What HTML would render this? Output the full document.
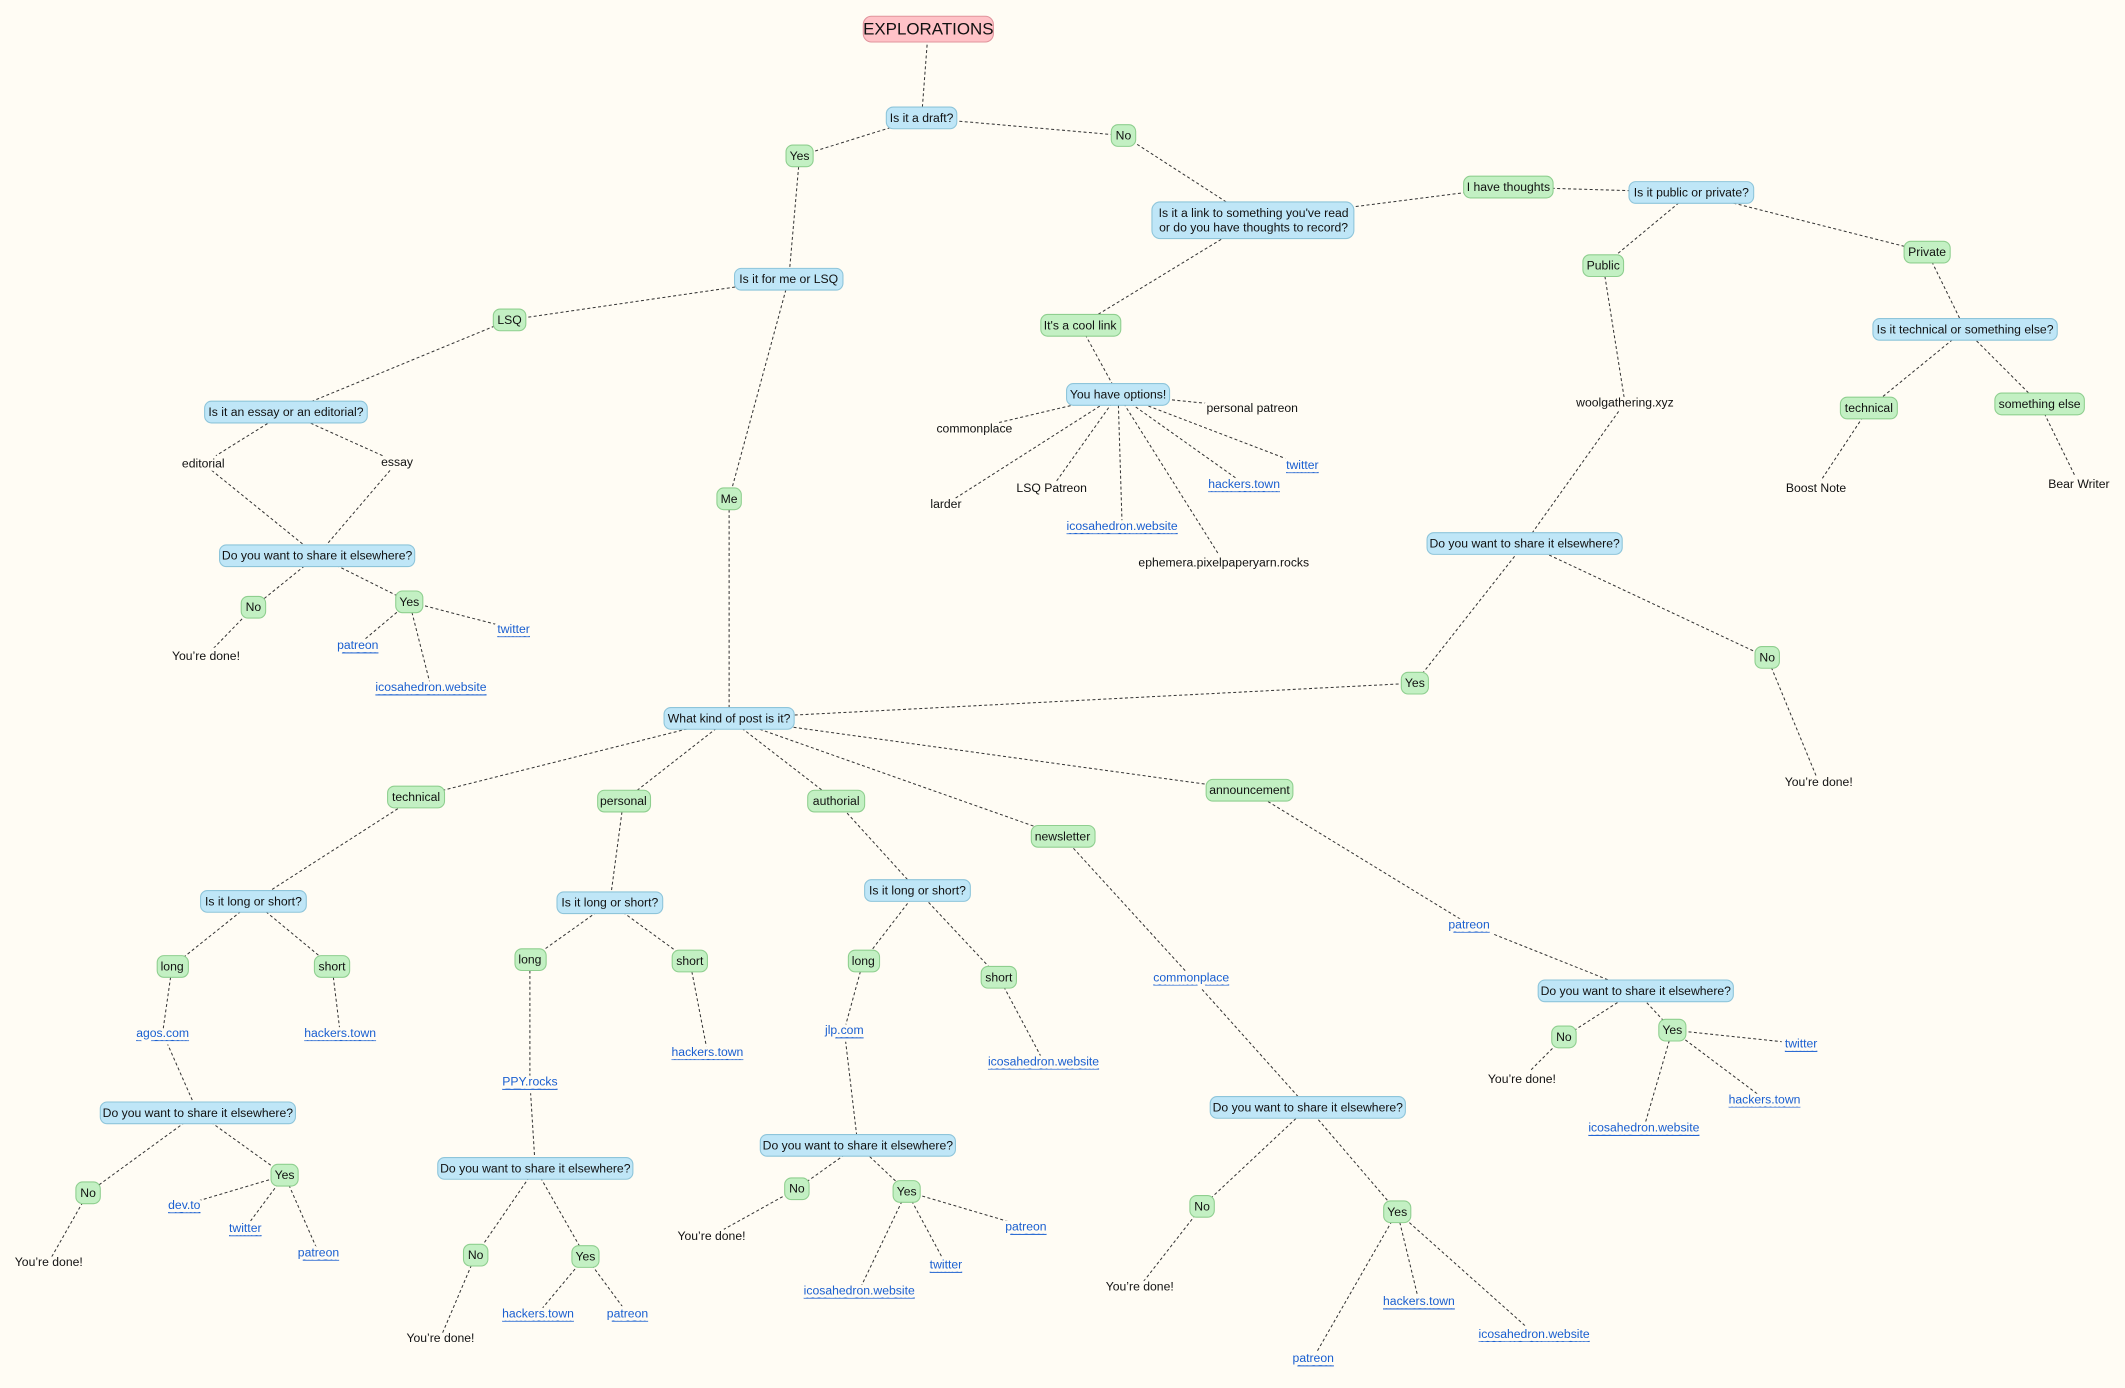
<!DOCTYPE html>
<html><head><meta charset="utf-8">
<style>
html,body{margin:0;padding:0;background:#fffcf4;}
svg{display:block}
text{font-family:"Liberation Sans",Arial,sans-serif;font-size:9px;fill:#111;text-anchor:middle;dominant-baseline:central}
.t,.l{paint-order:stroke;stroke:#fffcf4;stroke-width:5px;stroke-linejoin:round}
.l{fill:#1a5fd0;text-decoration:underline}
.b{fill:#bfe6f7;stroke:#8ec5da;stroke-width:0.8}
.g{fill:#c3f0c3;stroke:#8fcf8f;stroke-width:0.8}
.p{fill:#ffc2c7;stroke:#e0949c;stroke-width:0.8}
line{stroke:#333;stroke-width:0.75;stroke-dasharray:2.2 1.8}
</style></head><body>
<svg width="2125" height="1388" viewBox="0 0 1568 1024" preserveAspectRatio="none">
<rect width="1568" height="1024" fill="#fffcf4"/>
<g>
<line x1="685" y1="21" x2="680" y2="87"/>
<line x1="680" y1="87" x2="590" y2="115"/>
<line x1="680" y1="87" x2="829" y2="100"/>
<line x1="829" y1="100" x2="925" y2="162"/>
<line x1="925" y1="162" x2="1113" y2="138"/>
<line x1="1113" y1="138" x2="1248" y2="142"/>
<line x1="1248" y1="142" x2="1183" y2="196"/>
<line x1="1248" y1="142" x2="1422" y2="186"/>
<line x1="1422" y1="186" x2="1450" y2="243"/>
<line x1="1450" y1="243" x2="1379" y2="301"/>
<line x1="1450" y1="243" x2="1505" y2="298"/>
<line x1="1379" y1="301" x2="1340" y2="360"/>
<line x1="1505" y1="298" x2="1534" y2="357"/>
<line x1="1183" y1="196" x2="1199" y2="297"/>
<line x1="1199" y1="297" x2="1125" y2="401"/>
<line x1="1125" y1="401" x2="1044" y2="504"/>
<line x1="1125" y1="401" x2="1304" y2="485"/>
<line x1="1304" y1="485" x2="1342" y2="577"/>
<line x1="1044" y1="504" x2="538" y2="530"/>
<line x1="925" y1="162" x2="797" y2="240"/>
<line x1="797" y1="240" x2="825" y2="291"/>
<line x1="825" y1="291" x2="924" y2="301"/>
<line x1="825" y1="291" x2="719" y2="316"/>
<line x1="825" y1="291" x2="698" y2="372"/>
<line x1="825" y1="291" x2="776" y2="360"/>
<line x1="825" y1="291" x2="828" y2="388"/>
<line x1="825" y1="291" x2="903" y2="415"/>
<line x1="825" y1="291" x2="918" y2="357"/>
<line x1="825" y1="291" x2="961" y2="343"/>
<line x1="590" y1="115" x2="582" y2="206"/>
<line x1="582" y1="206" x2="376" y2="236"/>
<line x1="582" y1="206" x2="538" y2="368"/>
<line x1="376" y1="236" x2="211" y2="304"/>
<line x1="211" y1="304" x2="150" y2="342"/>
<line x1="211" y1="304" x2="293" y2="341"/>
<line x1="150" y1="342" x2="234" y2="410"/>
<line x1="293" y1="341" x2="234" y2="410"/>
<line x1="234" y1="410" x2="187" y2="448"/>
<line x1="234" y1="410" x2="302" y2="444"/>
<line x1="187" y1="448" x2="152" y2="484"/>
<line x1="302" y1="444" x2="264" y2="476"/>
<line x1="302" y1="444" x2="379" y2="464"/>
<line x1="302" y1="444" x2="318" y2="507"/>
<line x1="538" y1="368" x2="538" y2="530"/>
<line x1="538" y1="530" x2="307" y2="588"/>
<line x1="538" y1="530" x2="460" y2="591"/>
<line x1="538" y1="530" x2="617" y2="591"/>
<line x1="538" y1="530" x2="784" y2="617"/>
<line x1="538" y1="530" x2="922" y2="583"/>
<line x1="307" y1="588" x2="187" y2="665"/>
<line x1="187" y1="665" x2="127" y2="713"/>
<line x1="187" y1="665" x2="245" y2="713"/>
<line x1="127" y1="713" x2="120" y2="762"/>
<line x1="245" y1="713" x2="251" y2="762"/>
<line x1="120" y1="762" x2="146" y2="821"/>
<line x1="146" y1="821" x2="65" y2="880"/>
<line x1="146" y1="821" x2="210" y2="867"/>
<line x1="65" y1="880" x2="36" y2="931"/>
<line x1="210" y1="867" x2="136" y2="889"/>
<line x1="210" y1="867" x2="181" y2="906"/>
<line x1="210" y1="867" x2="235" y2="924"/>
<line x1="460" y1="591" x2="450" y2="666"/>
<line x1="450" y1="666" x2="391" y2="708"/>
<line x1="450" y1="666" x2="509" y2="709"/>
<line x1="391" y1="708" x2="391" y2="798"/>
<line x1="509" y1="709" x2="522" y2="776"/>
<line x1="391" y1="798" x2="395" y2="862"/>
<line x1="395" y1="862" x2="351" y2="926"/>
<line x1="395" y1="862" x2="432" y2="927"/>
<line x1="351" y1="926" x2="325" y2="987"/>
<line x1="432" y1="927" x2="397" y2="969"/>
<line x1="432" y1="927" x2="463" y2="969"/>
<line x1="617" y1="591" x2="677" y2="657"/>
<line x1="677" y1="657" x2="637" y2="709"/>
<line x1="677" y1="657" x2="737" y2="721"/>
<line x1="637" y1="709" x2="623" y2="760"/>
<line x1="737" y1="721" x2="770" y2="783"/>
<line x1="623" y1="760" x2="633" y2="845"/>
<line x1="633" y1="845" x2="588" y2="877"/>
<line x1="633" y1="845" x2="669" y2="879"/>
<line x1="588" y1="877" x2="525" y2="912"/>
<line x1="669" y1="879" x2="634" y2="952"/>
<line x1="669" y1="879" x2="698" y2="933"/>
<line x1="669" y1="879" x2="757" y2="905"/>
<line x1="784" y1="617" x2="879" y2="721"/>
<line x1="879" y1="721" x2="965" y2="817"/>
<line x1="965" y1="817" x2="887" y2="890"/>
<line x1="965" y1="817" x2="1031" y2="894"/>
<line x1="887" y1="890" x2="841" y2="949"/>
<line x1="1031" y1="894" x2="969" y2="1002"/>
<line x1="1031" y1="894" x2="1047" y2="960"/>
<line x1="1031" y1="894" x2="1132" y2="984"/>
<line x1="922" y1="583" x2="1084" y2="682"/>
<line x1="1084" y1="682" x2="1207" y2="731"/>
<line x1="1207" y1="731" x2="1154" y2="765"/>
<line x1="1207" y1="731" x2="1234" y2="760"/>
<line x1="1154" y1="765" x2="1123" y2="796"/>
<line x1="1234" y1="760" x2="1329" y2="770"/>
<line x1="1234" y1="760" x2="1302" y2="811"/>
<line x1="1234" y1="760" x2="1213" y2="832"/>
</g>

<rect class="p" x="637" y="12" width="96" height="19" rx="6"/><text x="685" y="21.5" style="font-size:12.5px">EXPLORATIONS</text>
<rect class="b" x="654" y="79" width="52" height="16" rx="5"/><text x="680" y="87">Is it a draft?</text>
<rect class="g" x="580" y="107" width="20" height="16" rx="5"/><text x="590" y="115">Yes</text>
<rect class="g" x="820" y="92" width="18" height="16" rx="5"/><text x="829" y="100">No</text>
<rect class="b" x="850" y="149" width="149" height="27" rx="6"/><text x="925" y="157">Is it a link to something you've read</text><text x="925" y="168">or do you have thoughts to record?</text>
<rect class="g" x="1080" y="130" width="66" height="16" rx="5"/><text x="1113" y="138">I have thoughts</text>
<rect class="b" x="1202" y="134" width="92" height="16" rx="5"/><text x="1248" y="142">Is it public or private?</text>
<rect class="g" x="1168" y="188" width="30" height="16" rx="5"/><text x="1183" y="196">Public</text>
<rect class="g" x="1405" y="178" width="34" height="16" rx="5"/><text x="1422" y="186">Private</text>
<rect class="b" x="1382" y="235" width="136" height="16" rx="5"/><text x="1450" y="243">Is it technical or something else?</text>
<rect class="g" x="1358" y="293" width="42" height="16" rx="5"/><text x="1379" y="301">technical</text>
<rect class="g" x="1472" y="290" width="66" height="16" rx="5"/><text x="1505" y="298">something else</text>
<rect class="b" x="1053" y="393" width="144" height="16" rx="5"/><text x="1125" y="401">Do you want to share it elsewhere?</text>
<rect class="g" x="1034" y="496" width="20" height="16" rx="5"/><text x="1044" y="504">Yes</text>
<rect class="g" x="1295" y="477" width="18" height="16" rx="5"/><text x="1304" y="485">No</text>
<rect class="g" x="768" y="232" width="59" height="16" rx="5"/><text x="797" y="240">It's a cool link</text>
<rect class="b" x="787" y="283" width="76" height="16" rx="5"/><text x="825" y="291">You have options!</text>
<rect class="b" x="542" y="198" width="80" height="16" rx="5"/><text x="582" y="206">Is it for me or LSQ</text>
<rect class="g" x="364" y="228" width="24" height="16" rx="5"/><text x="376" y="236">LSQ</text>
<rect class="g" x="529" y="360" width="18" height="16" rx="5"/><text x="538" y="368">Me</text>
<rect class="b" x="151" y="296" width="120" height="16" rx="5"/><text x="211" y="304">Is it an essay or an editorial?</text>
<rect class="b" x="162" y="402" width="144" height="16" rx="5"/><text x="234" y="410">Do you want to share it elsewhere?</text>
<rect class="g" x="178" y="440" width="18" height="16" rx="5"/><text x="187" y="448">No</text>
<rect class="g" x="292" y="436" width="20" height="16" rx="5"/><text x="302" y="444">Yes</text>
<rect class="b" x="490" y="522" width="96" height="16" rx="5"/><text x="538" y="530">What kind of post is it?</text>
<rect class="g" x="286" y="580" width="42" height="16" rx="5"/><text x="307" y="588">technical</text>
<rect class="g" x="441" y="583" width="39" height="16" rx="5"/><text x="460" y="591">personal</text>
<rect class="g" x="596" y="583" width="42" height="16" rx="5"/><text x="617" y="591">authorial</text>
<rect class="g" x="761" y="609" width="47" height="16" rx="5"/><text x="784" y="617">newsletter</text>
<rect class="g" x="890" y="575" width="64" height="16" rx="5"/><text x="922" y="583">announcement</text>

<rect class="b" x="148" y="657" width="78" height="16" rx="5"/><text x="187" y="665">Is it long or short?</text>
<rect class="g" x="116" y="705" width="23" height="16" rx="5"/><text x="127" y="713">long</text>
<rect class="g" x="232" y="705" width="26" height="16" rx="5"/><text x="245" y="713">short</text>
<rect class="b" x="74" y="813" width="144" height="16" rx="5"/><text x="146" y="821">Do you want to share it elsewhere?</text>
<rect class="g" x="56" y="872" width="18" height="16" rx="5"/><text x="65" y="880">No</text>
<rect class="g" x="200" y="859" width="20" height="16" rx="5"/><text x="210" y="867">Yes</text>

<rect class="b" x="411" y="658" width="78" height="16" rx="5"/><text x="450" y="666">Is it long or short?</text>
<rect class="g" x="380" y="700" width="23" height="16" rx="5"/><text x="391" y="708">long</text>
<rect class="g" x="496" y="701" width="26" height="16" rx="5"/><text x="509" y="709">short</text>
<rect class="b" x="323" y="854" width="144" height="16" rx="5"/><text x="395" y="862">Do you want to share it elsewhere?</text>
<rect class="g" x="342" y="918" width="18" height="16" rx="5"/><text x="351" y="926">No</text>
<rect class="g" x="422" y="919" width="20" height="16" rx="5"/><text x="432" y="927">Yes</text>

<rect class="b" x="638" y="649" width="78" height="16" rx="5"/><text x="677" y="657">Is it long or short?</text>
<rect class="g" x="626" y="701" width="23" height="16" rx="5"/><text x="637" y="709">long</text>
<rect class="g" x="724" y="713" width="26" height="16" rx="5"/><text x="737" y="721">short</text>
<rect class="b" x="561" y="837" width="144" height="16" rx="5"/><text x="633" y="845">Do you want to share it elsewhere?</text>
<rect class="g" x="579" y="869" width="18" height="16" rx="5"/><text x="588" y="877">No</text>
<rect class="g" x="659" y="871" width="20" height="16" rx="5"/><text x="669" y="879">Yes</text>

<rect class="b" x="893" y="809" width="144" height="16" rx="5"/><text x="965" y="817">Do you want to share it elsewhere?</text>
<rect class="g" x="878" y="882" width="18" height="16" rx="5"/><text x="887" y="890">No</text>
<rect class="g" x="1021" y="886" width="20" height="16" rx="5"/><text x="1031" y="894">Yes</text>

<rect class="b" x="1135" y="723" width="144" height="16" rx="5"/><text x="1207" y="731">Do you want to share it elsewhere?</text>
<rect class="g" x="1145" y="757" width="18" height="16" rx="5"/><text x="1154" y="765">No</text>
<rect class="g" x="1224" y="752" width="20" height="16" rx="5"/><text x="1234" y="760">Yes</text>

<text class="t" x="1340" y="360">Boost Note</text>
<text class="t" x="1534" y="357">Bear Writer</text>
<text class="t" x="1199" y="297">woolgathering.xyz</text>
<text class="t" x="1342" y="577">You’re done!</text>
<text class="t" x="924" y="301">personal patreon</text>
<text class="t" x="719" y="316">commonplace</text>
<text class="t" x="698" y="372">larder</text>
<text class="t" x="776" y="360">LSQ Patreon</text>
<text class="t" x="903" y="415">ephemera.pixelpaperyarn.rocks</text>
<text class="t" x="150" y="342">editorial</text>
<text class="t" x="293" y="341">essay</text>
<text class="t" x="152" y="484">You’re done!</text>
<text class="t" x="36" y="931">You’re done!</text>
<text class="t" x="325" y="987">You’re done!</text>
<text class="t" x="525" y="912">You’re done!</text>
<text class="t" x="841" y="949">You’re done!</text>
<text class="t" x="1123" y="796">You’re done!</text>

<text class="l" x="828" y="388">icosahedron.website</text>
<text class="l" x="918" y="357">hackers.town</text>
<text class="l" x="961" y="343">twitter</text>
<text class="l" x="264" y="476">patreon</text>
<text class="l" x="379" y="464">twitter</text>
<text class="l" x="318" y="507">icosahedron.website</text>
<text class="l" x="120" y="762">agos.com</text>
<text class="l" x="251" y="762">hackers.town</text>
<text class="l" x="136" y="889">dev.to</text>
<text class="l" x="181" y="906">twitter</text>
<text class="l" x="235" y="924">patreon</text>
<text class="l" x="391" y="798">PPY.rocks</text>
<text class="l" x="522" y="776">hackers.town</text>
<text class="l" x="397" y="969">hackers.town</text>
<text class="l" x="463" y="969">patreon</text>
<text class="l" x="623" y="760">jlp.com</text>
<text class="l" x="770" y="783">icosahedron.website</text>
<text class="l" x="634" y="952">icosahedron.website</text>
<text class="l" x="698" y="933">twitter</text>
<text class="l" x="757" y="905">patreon</text>
<text class="l" x="879" y="721">commonplace</text>
<text class="l" x="969" y="1002">patreon</text>
<text class="l" x="1047" y="960">hackers.town</text>
<text class="l" x="1132" y="984">icosahedron.website</text>
<text class="l" x="1084" y="682">patreon</text>
<text class="l" x="1329" y="770">twitter</text>
<text class="l" x="1302" y="811">hackers.town</text>
<text class="l" x="1213" y="832">icosahedron.website</text>
</svg>
</body></html>
